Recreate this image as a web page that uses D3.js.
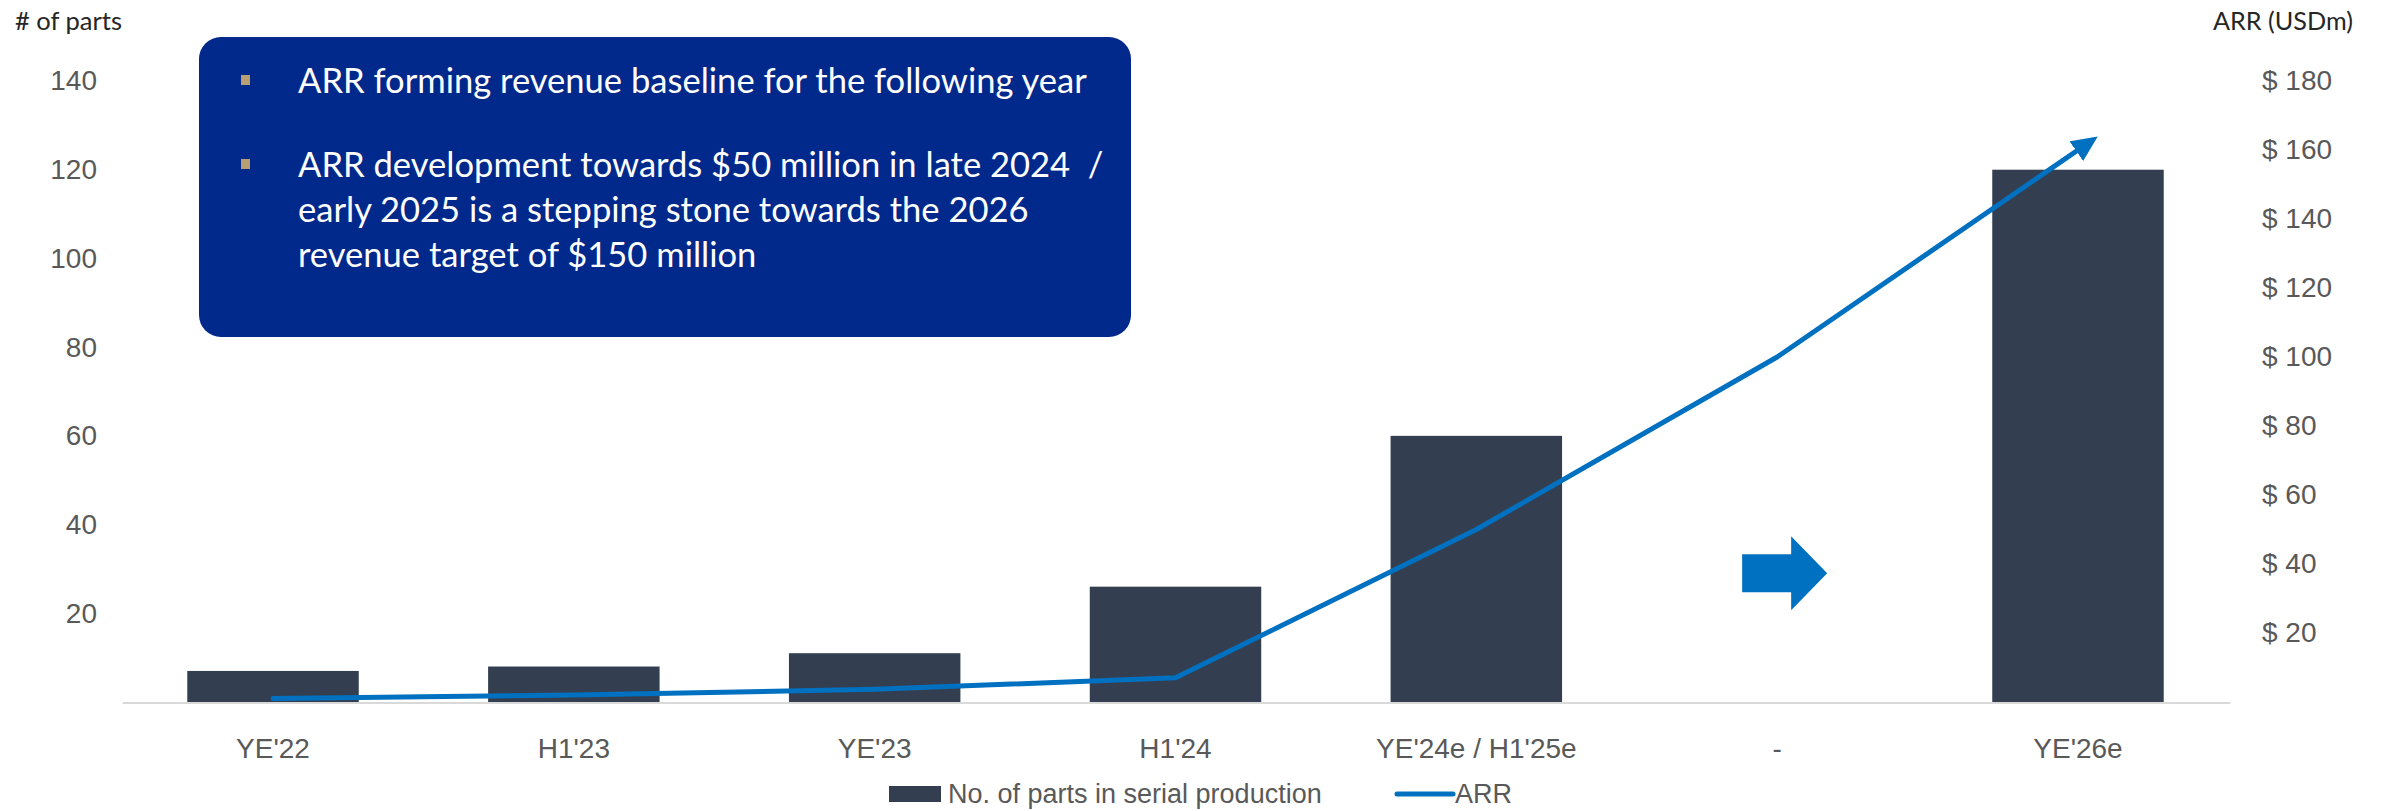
<!DOCTYPE html>
<html>
<head>
<meta charset="utf-8">
<script src="https://cdn.jsdelivr.net/npm/d3@7"></script>
<style>
  html, body { margin: 0; padding: 0; background: #fff; }
  svg { display: block; }
</style>
</head>
<body>
<svg id="chart" width="2384" height="811"></svg>
<script>
// chart data
const categories = ["YE'22", "H1'23", "YE'23", "H1'24", "YE'24e / H1'25e", "-", "YE'26e"];
const partsValues = [7, 8, 11, 26, 60, null, 120];   // left axis, # of parts
const arrValues = [1, 2, 3.7, 7, 50, 100, 160];      // right axis, USDm
const leftTicks = [20, 40, 60, 80, 100, 120, 140];
const rightTicks = [20, 40, 60, 80, 100, 120, 140, 160, 180];
const boxBullets = [
  ["ARR forming revenue baseline for the following year"],
  ["ARR development towards $50 million in late 2024  /",
   "early 2025 is a stepping stone towards the 2026",
   "revenue target of $150 million"]
];

const W = 2384, H = 811;
const plot = {left: 122.6, right: 2228.4, top: 81, bottom: 702};
const barColor = "#333f50", lineColor = "#0070c0", tickColor = "#595959";
const tickFont = 28;

const svg = d3.select("#chart");
svg.append("rect").attr("width", W).attr("height", H).attr("fill", "#fff");

const x = d3.scaleBand().domain(categories)
  .range([plot.left, plot.right])
  .paddingInner(0.43).paddingOuter(0.215);
const yLeft = d3.scaleLinear().domain([0, 140]).range([plot.bottom, plot.top]);
const yRight = d3.scaleLinear().domain([0, 180]).range([plot.bottom, plot.top]);

// shrink/grow font so a text fits a measured width
function fitWidth(sel, target) {
  const node = sel.node();
  const fs = parseFloat(sel.attr("font-size"));
  const w = node.getComputedTextLength();
  sel.attr("font-size", (fs * target / w).toFixed(2));
}

// bars
svg.append("g").selectAll("rect")
  .data(categories.map((c, i) => ({c, v: partsValues[i]})).filter(d => d.v != null))
  .join("rect")
  .attr("x", d => x(d.c))
  .attr("width", x.bandwidth())
  .attr("y", d => yLeft(d.v))
  .attr("height", d => yLeft(0) - yLeft(d.v))
  .attr("fill", barColor);

// category axis
svg.append("line")
  .attr("x1", plot.left).attr("x2", plot.right + 2)
  .attr("y1", plot.bottom + 1).attr("y2", plot.bottom + 1)
  .attr("stroke", "#d9d9d9").attr("stroke-width", 2);

const xAxis = svg.append("g")
  .attr("transform", `translate(0,${plot.bottom})`)
  .call(d3.axisBottom(x).tickSize(0).tickPadding(0));
xAxis.select(".domain").remove();
xAxis.selectAll("text")
  .attr("y", 56)
  .attr("dy", null)
  .attr("font-family", "Liberation Sans, Arial, sans-serif")
  .attr("font-size", tickFont)
  .attr("fill", tickColor);

// left axis
const yAxisL = svg.append("g")
  .attr("transform", `translate(97,0)`)
  .call(d3.axisLeft(yLeft).tickValues(leftTicks).tickSize(0).tickPadding(0));
yAxisL.select(".domain").remove();
yAxisL.selectAll("text")
  .attr("font-family", "Liberation Sans, Arial, sans-serif")
  .attr("font-size", tickFont)
  .attr("fill", tickColor);

// right axis
const yAxisR = svg.append("g")
  .attr("transform", `translate(2262,0)`)
  .call(d3.axisRight(yRight).tickValues(rightTicks).tickSize(0).tickPadding(0)
    .tickFormat(d => "$ " + d));
yAxisR.select(".domain").remove();
yAxisR.selectAll("text")
  .attr("font-family", "Liberation Sans, Arial, sans-serif")
  .attr("font-size", tickFont)
  .attr("fill", tickColor);

// axis titles
const tL = svg.append("text").text("# of parts")
  .attr("x", 15).attr("y", 21).attr("dy", "0.35em")
  .attr("font-family", "Lato, sans-serif").attr("font-size", 24)
  .attr("fill", "#262626");
fitWidth(tL, 107);
const tR = svg.append("text").text("ARR (USDm)")
  .attr("x", 2213).attr("y", 21).attr("dy", "0.35em")
  .attr("font-family", "Lato, sans-serif").attr("font-size", 24)
  .attr("fill", "#262626");
fitWidth(tR, 140);

// ARR line with arrow head
const defs = svg.append("defs");
defs.append("marker")
  .attr("id", "arrowHead")
  .attr("markerUnits", "userSpaceOnUse")
  .attr("viewBox", "0 0 26 24")
  .attr("markerWidth", 26).attr("markerHeight", 24)
  .attr("refX", 2).attr("refY", 12)
  .attr("orient", "auto")
  .append("path").attr("d", "M0,0L26,12L0,24Z").attr("fill", lineColor);

const line = d3.line()
  .x((d, i) => x(categories[i]) + x.bandwidth() / 2)
  .y(d => yRight(d));

svg.append("path")
  .datum(arrValues)
  .attr("d", line)
  .attr("fill", "none")
  .attr("stroke", lineColor)
  .attr("stroke-width", 5)
  .attr("stroke-linejoin", "round")
  .attr("stroke-linecap", "round")
  .attr("marker-end", "url(#arrowHead)");

// block arrow in the empty "-" slot
{
  const cx = x("-") + x.bandwidth() / 2, cy = yLeft(29);
  const pts = [[-35, -19], [14, -19], [14, -37], [50, 0], [14, 37], [14, 19], [-35, 19]];
  svg.append("path")
    .attr("d", "M" + pts.map(p => [cx + p[0], cy + p[1]].join(",")).join("L") + "Z")
    .attr("fill", lineColor);
}

// text box
svg.append("rect")
  .attr("x", 199).attr("y", 37).attr("width", 932).attr("height", 300)
  .attr("rx", 22).attr("ry", 22)
  .attr("fill", "#01298b");

const boxText = svg.append("g")
  .attr("font-family", "Lato, Carlito, sans-serif")
  .attr("fill", "#fff");
let baseY = 93;
boxBullets.forEach((lines, bi) => {
  svg.append("rect")
    .attr("x", 241).attr("y", baseY - 18).attr("width", 9).attr("height", 10)
    .attr("fill", "#b79f72");
  lines.forEach((ln, li) => {
    boxText.append("text")
      .attr("x", 298).attr("y", baseY + li * 45)
      .attr("font-size", 31)
      .attr("xml:space", "preserve")
      .text(ln);
  });
  baseY += lines.length * 45 + 39;
});
// size every line from the first one's measured width
{
  const first = boxText.select("text");
  fitWidth(first, 789);
  boxText.selectAll("text").attr("font-size", first.attr("font-size"));
}

// legend
const lg = svg.append("g").attr("font-family", "Liberation Sans, Arial, sans-serif")
  .attr("font-size", 27).attr("fill", tickColor);
lg.append("rect").attr("x", 889).attr("y", 786).attr("width", 52).attr("height", 16)
  .attr("fill", barColor);
const lt1 = lg.append("text").attr("x", 948).attr("y", 794).attr("dy", "0.35em")
  .text("No. of parts in serial production");
fitWidth(lt1, 402);
lg.append("line").attr("x1", 1397).attr("x2", 1453).attr("y1", 794).attr("y2", 794)
  .attr("stroke", lineColor).attr("stroke-width", 5).attr("stroke-linecap", "round");
lg.append("text").attr("x", 1455).attr("y", 794).attr("dy", "0.35em")
  .attr("font-size", lt1.attr("font-size"))
  .text("ARR");
</script>
</body>
</html>
